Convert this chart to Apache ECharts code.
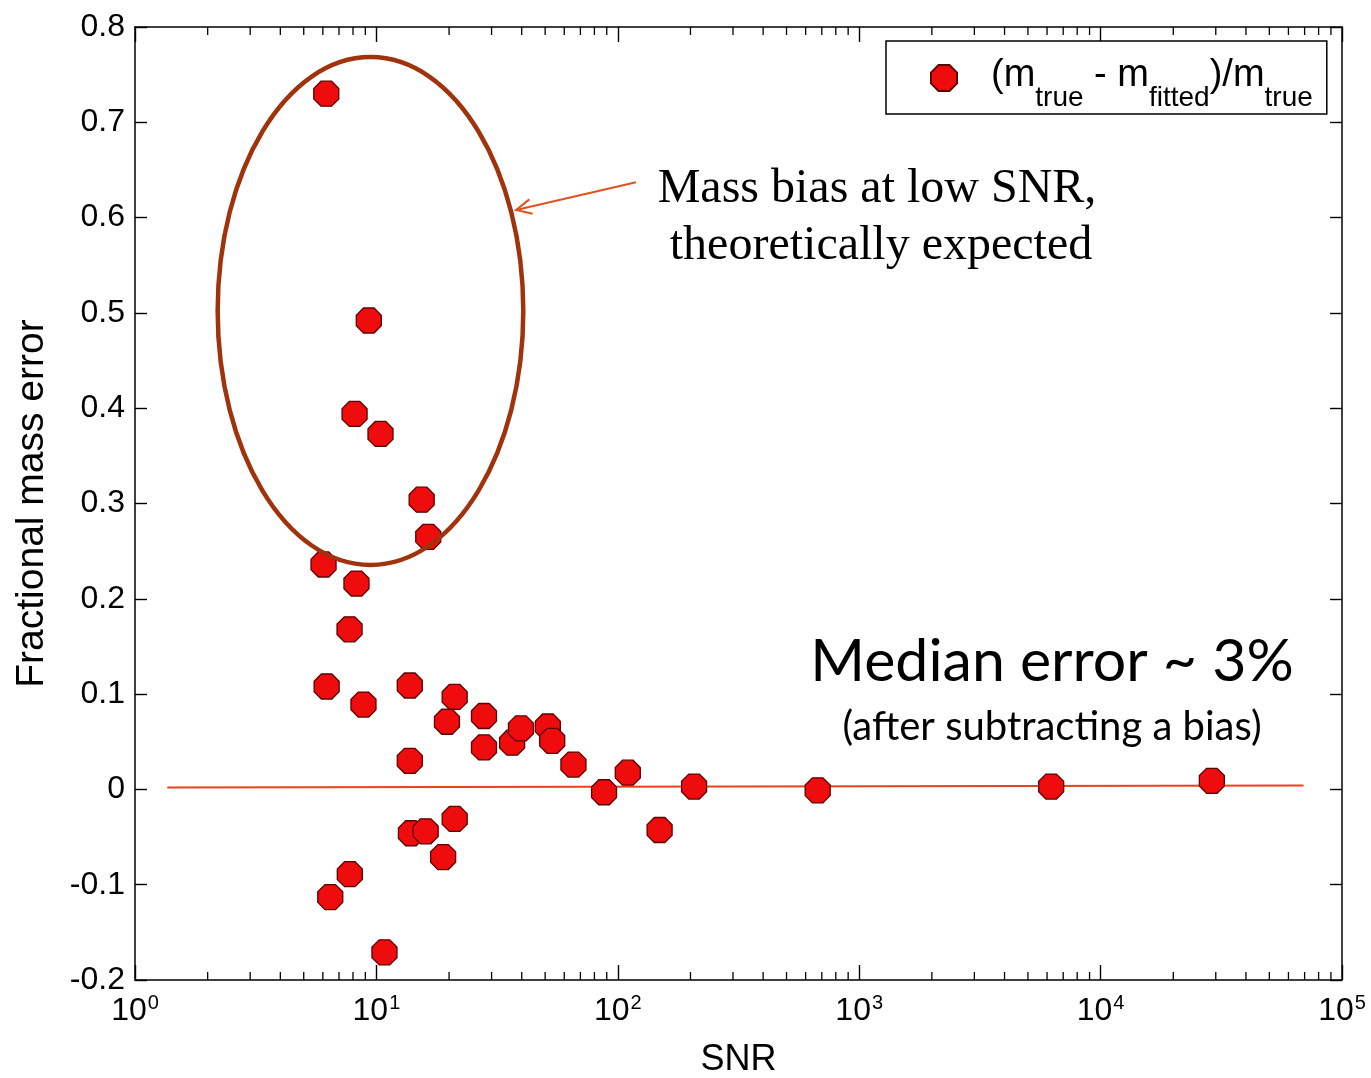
<!DOCTYPE html>
<html>
<head>
<meta charset="utf-8">
<title>Fractional mass error vs SNR</title>
<script src="https://cdn.jsdelivr.net/npm/echarts@6/dist/echarts.min.js"></script>
<style>
  html, body { margin: 0; padding: 0; background: #fff; }
  #chart { width: 1371px; height: 1078px; }
</style>
</head>
<body>
<div id="chart"></div>
<script>
// Signal-to-noise ratio of each fitted source
const snr = [
  6.20, 9.30, 8.12, 10.4, 15.4, 16.4, 6.04, 8.27, 7.74,
  6.22, 8.84, 13.75, 21.1, 19.6, 27.9, 27.9, 36.5, 39.7, 51.3, 53.5, 65.5,
  13.75, 21.1, 13.9, 16.0, 18.9, 7.76, 6.44, 10.8,
  87.7, 110, 149, 207, 673, 6240, 28900
];
// (m_true - m_fitted) / m_true for each source
const massErr = [
  0.730, 0.492, 0.394, 0.373, 0.304, 0.265, 0.236, 0.216, 0.168,
  0.108, 0.089, 0.109, 0.097, 0.071, 0.077, 0.044, 0.049, 0.064, 0.066, 0.051, 0.026,
  0.030, -0.031, -0.046, -0.044, -0.071, -0.089, -0.113, -0.171,
  -0.003, 0.0175, -0.0426, 0.003, -0.001, 0.003, 0.009
];
// Reference line near zero error
const refLineSnr = [1.36, 69300];
const refLineErr = [0.002, 0.004];

// Axis ranges and ticks
const X_MIN = 1, X_MAX = 100000;
const Y_MIN = -0.2, Y_MAX = 0.8, Y_STEP = 0.1;
const minorMultipliers = [2, 3, 4, 5, 6, 7, 8, 9];
const decades = [1, 10, 100, 1000, 10000];

// Region of low-SNR points that is circled (SNR span, error span)
const circledSnr = [2.2, 40.6];
const circledErr = [0.2355, 0.7684];
// Arrow pointing at the circled region: tail then head (SNR, error)
const arrowTail = [119, 0.637];
const arrowHead = [37.9, 0.608];

const minorTicks = [];
decades.forEach(d => minorMultipliers.forEach(m => minorTicks.push(d * m)));

const SANS = '"Liberation Sans", Arial, Helvetica, sans-serif';
const OCTAGON = 'path://M29,0 L71,0 L100,29 L100,71 L71,100 L29,100 L0,71 L0,29 Z';

const chart = echarts.init(document.getElementById('chart'), null, { renderer: 'canvas' });

const axisLine = { show: true, onZero: false, lineStyle: { color: '#000', width: 1.5 } };

const option = {
  backgroundColor: '#fff',
  animation: false,
  grid: { left: 135, right: 29, top: 27, bottom: 98, outerBoundsMode: 'none' },
  legend: {
    left: 886, top: 41,
    backgroundColor: '#fff',
    borderColor: '#000', borderWidth: 1.5, borderRadius: 0,
    padding: [3, 14, 2, 44],
    itemWidth: 26, itemHeight: 26,
    selectedMode: false,
    data: [{ name: 'err', icon: OCTAGON }],
    formatter: () => '{a|(m}{s|true}{m| - m}{s|fitted}{m|)/m}{s|true}',
    textStyle: {
      color: '#000',
      fontFamily: SANS,
      rich: {
        a: { fontSize: 38, fontFamily: SANS, lineHeight: 40, padding: [12, 0, 16, 29] },
        m: { fontSize: 38, fontFamily: SANS, lineHeight: 40, padding: [12, 0, 16, 0] },
        s: { fontSize: 28, fontFamily: SANS, lineHeight: 28, padding: [40, 0, 0, 0] }
      }
    }
  },
  xAxis: [
    {
      type: 'log', logBase: 10, min: X_MIN, max: X_MAX,
      position: 'bottom',
      name: 'SNR', nameLocation: 'middle', nameGap: 62,
      nameTextStyle: { fontFamily: SANS, fontSize: 36, color: '#000' },
      axisLine,
      axisTick: { show: true, inside: true, length: 15, lineStyle: { color: '#000', width: 1.4 } },
      splitLine: { show: false },
      minorTick: { show: false },
      axisLabel: {
        margin: 10,
        color: '#000',
        formatter: v => '{b|10}{e|' + Math.round(Math.log10(v)) + '}',
        rich: {
          b: { fontFamily: SANS, fontSize: 32, color: '#000', lineHeight: 34, padding: [8, 0, 0, 0] },
          e: { fontFamily: SANS, fontSize: 20, color: '#000', lineHeight: 20, padding: [7, 0, 15, 1] }
        }
      }
    },
    {
      type: 'log', logBase: 10, min: X_MIN, max: X_MAX,
      position: 'top',
      axisLine,
      axisTick: { show: true, inside: true, length: 15, lineStyle: { color: '#000', width: 1.4 } },
      axisLabel: { show: false },
      splitLine: { show: false }
    }
  ],
  yAxis: [
    {
      type: 'value', min: Y_MIN, max: Y_MAX, interval: Y_STEP,
      position: 'left',
      name: 'Fractional mass error', nameLocation: 'middle', nameRotate: 90, nameGap: 83,
      nameTextStyle: { fontFamily: SANS, fontSize: 39, color: '#000' },
      axisLine,
      axisTick: { show: true, inside: true, length: 12, lineStyle: { color: '#000', width: 1.4 } },
      splitLine: { show: false },
      axisLabel: {
        margin: 10, color: '#000', fontFamily: SANS, fontSize: 32,
        formatter: v => Math.abs(v) < 1e-9 ? '0' : v.toFixed(1)
      }
    },
    {
      type: 'value', min: Y_MIN, max: Y_MAX, interval: Y_STEP,
      position: 'right',
      axisLine,
      axisTick: { show: true, inside: true, length: 12, lineStyle: { color: '#000', width: 1.4 } },
      axisLabel: { show: false },
      splitLine: { show: false }
    }
  ],
  series: [
    {
      name: 'minorTicks',
      type: 'custom',
      silent: true,
      clip: false,
      xAxisIndex: 0, yAxisIndex: 0,
      data: minorTicks.map(v => [v, Y_MIN]),
      encode: { x: 0, y: 1 },
      renderItem: (params, api) => {
        const v = api.value(0);
        const b = api.coord([v, Y_MIN]);
        const t = api.coord([v, Y_MAX]);
        const st = { stroke: '#000', lineWidth: 1.3 };
        return {
          type: 'group',
          children: [
            { type: 'line', shape: { x1: b[0], y1: b[1], x2: b[0], y2: b[1] - 8 }, style: st },
            { type: 'line', shape: { x1: t[0], y1: t[1], x2: t[0], y2: t[1] + 8 }, style: st }
          ]
        };
      },
      z: 1
    },
    {
      name: 'zeroLine',
      type: 'line',
      silent: true,
      xAxisIndex: 0, yAxisIndex: 0,
      data: refLineSnr.map((x, i) => [x, refLineErr[i]]),
      symbol: 'none',
      lineStyle: { color: '#E8431A', width: 2 },
      z: 2
    },
    {
      name: 'err',
      type: 'scatter',
      xAxisIndex: 0, yAxisIndex: 0,
      data: snr.map((x, i) => [x, massErr[i]]),
      symbol: OCTAGON,
      symbolSize: 25,
      itemStyle: { color: '#EE0C0C', borderColor: '#5C0000', borderWidth: 1.3, opacity: 1 },
      z: 3
    }
  ]
};

chart.setOption(option);

// Annotations anchored to data coordinates
const px = p => chart.convertToPixel({ seriesIndex: 2 }, p);
const eL = px([circledSnr[0], circledErr[0]]);
const eR = px([circledSnr[1], circledErr[1]]);
const cx = (eL[0] + eR[0]) / 2, cy = (eL[1] + eR[1]) / 2;
const rx = Math.abs(eR[0] - eL[0]) / 2, ry = Math.abs(eR[1] - eL[1]) / 2;

const tail = px(arrowTail);
const head = px(arrowHead);
const ang = Math.atan2(tail[1] - head[1], tail[0] - head[0]);
const hl = 17, spread = Math.PI / 7;
const w1 = [head[0] + hl * Math.cos(ang + spread), head[1] + hl * Math.sin(ang + spread)];
const w2 = [head[0] + hl * Math.cos(ang - spread), head[1] + hl * Math.sin(ang - spread)];

const SERIF = '"Liberation Serif", "Times New Roman", serif';
const CAL = 'Lato, "Open Sans", sans-serif';

chart.setOption({
  graphic: [
    {
      type: 'ellipse', silent: true, z: 10,
      shape: { cx, cy, rx, ry },
      style: { fill: 'none', stroke: '#A0320C', lineWidth: 4.5 }
    },
    {
      type: 'polyline', silent: true, z: 10,
      shape: { points: [tail, head] },
      style: { stroke: '#E2521E', lineWidth: 2, fill: 'none' }
    },
    {
      type: 'polyline', silent: true, z: 10,
      shape: { points: [w1, head, w2] },
      style: { stroke: '#E2521E', lineWidth: 2, fill: 'none' }
    },
    {
      type: 'text', silent: true, z: 10,
      style: { text: 'Mass bias at low SNR,', x: 877, y: 189, textAlign: 'center', textVerticalAlign: 'middle',
               font: '48px ' + SERIF, fill: '#000' }
    },
    {
      type: 'text', silent: true, z: 10,
      style: { text: 'theoretically expected', x: 881, y: 246, textAlign: 'center', textVerticalAlign: 'middle',
               font: '48px ' + SERIF, fill: '#000' }
    },
    {
      type: 'text', silent: true, z: 10,
      style: { text: 'Median error ~ 3%', x: 1052, y: 662, textAlign: 'center', textVerticalAlign: 'middle',
               font: '59px ' + CAL, fill: '#000' }
    },
    {
      type: 'text', silent: true, z: 10,
      style: { text: '(after subtracting a bias)', x: 1052, y: 727, textAlign: 'center', textVerticalAlign: 'middle',
               font: '40px ' + CAL, fill: '#000' }
    }
  ]
});
</script>
</body>
</html>
